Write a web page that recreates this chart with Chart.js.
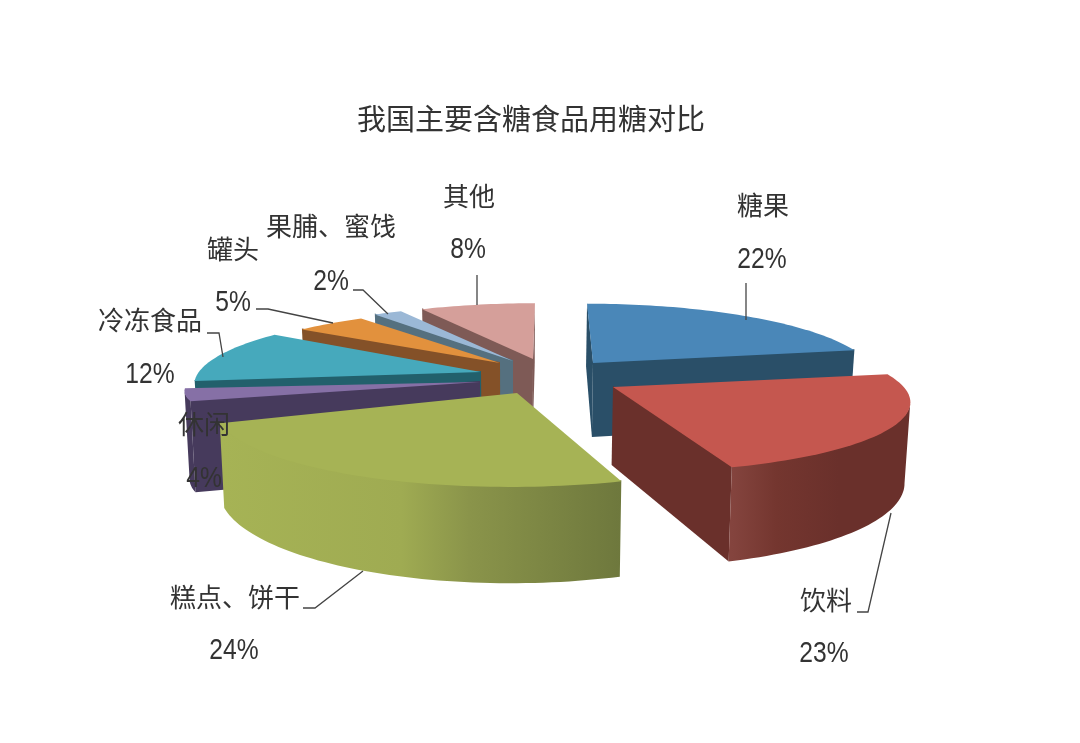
<!DOCTYPE html>
<html>
<head>
<meta charset="utf-8">
<title>我国主要含糖食品用糖对比</title>
<script src="https://cdn.jsdelivr.net/npm/chart.js@4"></script>
<style>
  html, body { margin: 0; padding: 0; background: #fff; }
  canvas { display: block; }
</style>
</head>
<body>
<canvas id="grafico" width="1080" height="743"></canvas>
<script>
// datos
const categorias = ["糖果", "饮料", "糕点、饼干", "休闲", "冷冻食品", "罐头", "果脯、蜜饯", "其他"];
const valores = [22, 23, 24, 4, 12, 5, 2, 8];

// colores: cara superior y pared de cada porcion
const colorTapa = ["#4a87b8", "#c5574f", "#a6b355", "#8670a6", "#46a9bc", "#e2913d", "#9bb8d6", "#d59f9a"];
const colorPared = ["#2a4f68", "#6a302b", "#a6b355", "#463a5c", "#22606c", "#845128", "#55707f", "#7e5a56"];

// punta de cada porcion en pantalla (el "explode" del original) y grosor
const puntas = [[593, 363], [613, 387], [517, 393], [480, 382], [481, 372], [500, 363], [513, 361], [533, 359]];
const grosor = [74, 78, 79, 85, 72, 72, 72, 72];
// ajuste fino de cada porcion: escala x, escala y, inclinacion
const escalaX = [0.97, 1.02, 1.04, 1.02, 0.99, 0.95, 0.945, 0.95];
const escalaY = [1, 1, 1.1, 0.7, 1, 0.9, 0.94, 0.94];
const inclina = [0.1, 0.13, -0.07, 0, 0, 0, 0, -0.035];
// de atras hacia delante
const ordenDibujo = [7, 6, 5, 4, 3, 0, 2, 1];

// posicion de los textos: nombre y porcentaje
const posNombre = [[763, 205], [826, 600], [235, 597], [204, 424], [150, 320], [233, 249], [331, 226], [469, 196]];
const posPct = [[762, 260], [824, 654], [234, 651], [204, 479], [150, 375], [233, 303], [331, 282], [468, 250]];
const guias = [
  [[746, 283], [746, 320]],
  [[857, 612], [868, 612], [891, 513]],
  [[303, 608], [315, 608], [363, 571]],
  [],
  [[207, 333], [219, 333], [223, 357]],
  [[256, 309], [268, 309], [333, 323]],
  [[353, 290], [363, 290], [388, 314]],
  [[477, 275], [477, 305]]
];

const PERSP = 0.18;     // fuerza de la perspectiva
const APLASTE = 0.2456; // radio vertical / radio horizontal
const FUGA = 0.015;     // las verticales convergen un poco hacia abajo
const CENTRO_X = 520;

function proyectar(i, R, ang) {
  const u = Math.sin(ang), v = Math.cos(ang);
  const w = 1 + PERSP * v;
  const dy = -R * APLASTE * v / w * escalaY[i];
  const dx = R * u / w * escalaX[i] + inclina[i] * dy;
  return { x: puntas[i][0] + dx, y: puntas[i][1] + dy, w: w };
}

function bajar(p, d) {
  return { x: p.x + (CENTRO_X - p.x) * FUGA, y: p.y + d / p.w };
}

// pared de una tira de puntos: arriba de ida, abajo de vuelta
// (sube 1px por arriba para que no quede una raya bajo la tapa)
function pintarPared(ctx, tira, d, relleno) {
  ctx.beginPath();
  tira.forEach((p, s) => s === 0 ? ctx.moveTo(p.x, p.y - 1) : ctx.lineTo(p.x, p.y - 1));
  tira.slice().reverse().forEach(p => {
    const q = bajar(p, d);
    ctx.lineTo(q.x, q.y);
  });
  ctx.closePath();
  ctx.fillStyle = relleno;
  ctx.fill();
}

function rellenoBorde(ctx, i) {
  if (i === 2) {
    const g = ctx.createLinearGradient(222, 0, 621, 0);
    g.addColorStop(0, "#a6b355");
    g.addColorStop(0.45, "#9fab52");
    g.addColorStop(0.62, "#8a944a");
    g.addColorStop(1, "#6e783d");
    return g;
  }
  if (i === 1) {
    const g = ctx.createLinearGradient(732, 0, 910, 0);
    g.addColorStop(0, "#84443e");
    g.addColorStop(0.25, "#74362f");
    g.addColorStop(0.6, "#6a302b");
    g.addColorStop(1, "#6a302b");
    return g;
  }
  return colorPared[i];
}

const tarta3d = {
  id: "tarta3d",
  // el dibujo normal del arco se sustituye por el prisma
  beforeDatasetDraw(chart) {
    const ctx = chart.ctx;
    const arcos = chart.getDatasetMeta(0).data;
    ordenDibujo.forEach(i => {
      const arco = arcos[i];
      const ini = arco.startAngle + Math.PI / 2;
      const fin = arco.endAngle + Math.PI / 2;
      const R = arco.outerRadius;
      const tip = { x: puntas[i][0], y: puntas[i][1], w: 1 };
      const pasos = Math.max(4, Math.ceil((fin - ini) * 40));
      const borde = [];
      for (let p = 0; p <= pasos; p++) {
        borde.push(proyectar(i, R, ini + (fin - ini) * p / pasos));
      }
      const ultimo = borde[borde.length - 1];

      // solo se ven las paredes cuyo borde va hacia la izquierda en sentido horario
      if (borde[0].x < tip.x) pintarPared(ctx, [tip, borde[0]], grosor[i], colorPared[i]);
      if (tip.x < ultimo.x) pintarPared(ctx, [ultimo, tip], grosor[i], colorPared[i]);
      let tira = [];
      for (let s = 0; s < borde.length - 1; s++) {
        if (borde[s + 1].x < borde[s].x) {
          if (!tira.length) tira.push(borde[s]);
          tira.push(borde[s + 1]);
        }
      }
      if (tira.length) pintarPared(ctx, tira, grosor[i], rellenoBorde(ctx, i));

      ctx.beginPath();
      ctx.moveTo(tip.x, tip.y);
      borde.forEach(p => ctx.lineTo(p.x, p.y));
      ctx.closePath();
      ctx.fillStyle = colorTapa[i];
      ctx.fill();
    });
    return false;
  },
  afterDatasetsDraw(chart) {
    const ctx = chart.ctx;
    ctx.save();
    ctx.strokeStyle = "#444";
    ctx.lineWidth = 1.3;
    guias.forEach(g => {
      if (!g.length) return;
      ctx.beginPath();
      g.forEach((p, s) => s === 0 ? ctx.moveTo(p[0], p[1]) : ctx.lineTo(p[0], p[1]));
      ctx.stroke();
    });
    ctx.fillStyle = "#333";
    ctx.textAlign = "center";
    ctx.textBaseline = "middle";
    categorias.forEach((c, i) => {
      ctx.font = '26px "Noto Sans CJK SC"';
      ctx.fillText(c, posNombre[i][0], posNombre[i][1]);
      // los digitos del original son estrechos
      ctx.save();
      ctx.translate(posPct[i][0], posPct[i][1]);
      ctx.scale(0.85, 1);
      ctx.font = '29px "Liberation Sans"';
      ctx.fillText(valores[i] + "%", 0, 0);
      ctx.restore();
    });
    ctx.restore();
  }
};

const grafico = new Chart(document.getElementById("grafico").getContext("2d"), {
  type: "pie",
  data: {
    labels: categorias,
    datasets: [{ data: valores, backgroundColor: colorTapa, borderWidth: 0 }]
  },
  options: {
    responsive: false,
    animation: false,
    radius: 285,
    layout: { padding: { right: 18 } },
    plugins: {
      legend: { display: false },
      tooltip: { enabled: false },
      title: {
        display: true,
        text: "我国主要含糖食品用糖对比",
        color: "#333",
        font: { family: '"Noto Sans CJK SC"', size: 29, weight: "normal" },
        padding: { top: 102, bottom: 10 }
      }
    }
  },
  plugins: [tarta3d]
});
</script>
</body>
</html>
